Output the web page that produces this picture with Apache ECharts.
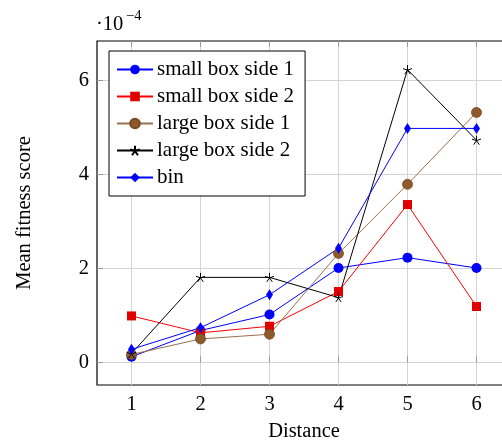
<!DOCTYPE html>
<html>
<head>
<meta charset="utf-8">
<script src="https://cdn.jsdelivr.net/npm/echarts@6/dist/echarts.min.js"></script>
<style>
html,body{margin:0;padding:0;background:#fff;}
#chart{width:502px;height:440px;}
</style>
</head>
<body>
<div id="chart"></div>
<script>
// Values in units of 1e-4
const distances = [1, 2, 3, 4, 5, 6];
const xTicks = [1, 2, 3, 4, 5, 6];
const yTicks = [0, 2, 4, 6];
const smallBoxSide1 = [0.12, 0.68, 1.02, 2.01, 2.23, 2.01];
const smallBoxSide2 = [0.99, 0.63, 0.77, 1.51, 3.36, 1.19];
const largeBoxSide1 = [0.17, 0.50, 0.60, 2.32, 3.79, 5.32];
const largeBoxSide2 = [0.19, 1.81, 1.81, 1.38, 6.23, 4.73];
const bin = [0.28, 0.74, 1.44, 2.43, 4.98, 4.98];
const seriesNames = ['small box side 1', 'small box side 2', 'large box side 1', 'large box side 2', 'bin'];

const FONT = 'Liberation Serif';
const pairs = arr => distances.map((d, i) => [d, arr[i]]);
const star = 'path://M0,-5L0,0M4.76,-1.55L0,0M2.94,4.05L0,0M-2.94,4.05L0,0M-4.76,-1.55L0,0';

const chart = echarts.init(document.getElementById('chart'), null, {renderer: 'canvas'});
const axisCommon = {
  axisLine: {show: false},
  axisTick: {show: true, inside: true, length: 6, lineStyle: {color: '#999', width: 1}},
  splitLine: {show: true, lineStyle: {color: '#d4d4d4', width: 1}},
  axisLabel: {color: '#000', fontFamily: FONT, fontSize: 20.5}
};
chart.setOption({
  animation: false,
  backgroundColor: '#fff',
  textStyle: {fontFamily: FONT},
  grid: {left: 97, top: 41, width: 414, height: 344, outerBoundsMode: 'none', containLabel: false,
         show: true, borderColor: '#000', borderWidth: 1.2, backgroundColor: 'transparent'},
  graphic: [
    {type: 'text', left: 96, top: 14, style: {text: '·10', font: '20.5px "Liberation Serif"', fill: '#000'}},
    {type: 'text', left: 126, top: 9, style: {text: '−4', font: '14.5px "Liberation Serif"', fill: '#000'}}
  ],
  legend: {
    left: 109, top: 51, orient: 'vertical',
    backgroundColor: '#fff', borderColor: '#000', borderWidth: 1,
    padding: [8, 11, 8, 7],
    itemWidth: 36, itemHeight: 12, itemGap: 6,
    textStyle: {fontFamily: FONT, fontSize: 21, color: '#000', lineHeight: 20, padding: [0, 0, 0, -1]},
    data: seriesNames
  },
  xAxis: [
    Object.assign({}, axisCommon, {
      type: 'value', min: 0.5, max: 6.5, position: 'bottom',
      name: 'Distance', nameLocation: 'middle', nameGap: 36,
      nameTextStyle: {fontFamily: FONT, fontSize: 20.5, color: '#000'},
      axisTick: Object.assign({}, axisCommon.axisTick, {customValues: xTicks}),
      axisLabel: Object.assign({}, axisCommon.axisLabel, {customValues: xTicks, margin: 9}),
    }),
    {
      type: 'value', min: 0.5, max: 6.5, position: 'top',
      axisLine: {show: false},
      axisTick: {show: true, inside: true, length: 6, lineStyle: {color: '#999'}, customValues: xTicks},
      axisLabel: {show: false, customValues: xTicks},
      splitLine: {show: false}
    }
  ],
  yAxis: Object.assign({}, axisCommon, {
    type: 'value', min: -0.48, max: 6.84,
    name: 'Mean fitness score', nameLocation: 'middle', nameGap: 62,
    nameTextStyle: {fontFamily: FONT, fontSize: 20.5, color: '#000'},
    axisTick: Object.assign({}, axisCommon.axisTick, {customValues: yTicks}),
    axisLabel: Object.assign({}, axisCommon.axisLabel, {customValues: yTicks, margin: 8}),
  }),
  series: [
    {name: seriesNames[0], type: 'line', data: pairs(smallBoxSide1), symbol: 'circle', symbolSize: 10,
     itemStyle: {color: '#0000ff'}, lineStyle: {color: '#0000ff', width: 1}},
    {name: seriesNames[1], type: 'line', data: pairs(smallBoxSide2), symbol: 'rect', symbolSize: 9,
     itemStyle: {color: '#e00000'}, lineStyle: {color: '#ff0000', width: 1}},
    {name: seriesNames[2], type: 'line', data: pairs(largeBoxSide1), symbol: 'circle', symbolSize: 10,
     itemStyle: {color: '#8c5a2b', borderColor: '#7a4a20', borderWidth: 0.8}, lineStyle: {color: '#9a7050', width: 1}},
    {name: seriesNames[3], type: 'line', data: pairs(largeBoxSide2), symbol: star, symbolSize: 9,
     itemStyle: {color: '#000', borderColor: '#000', borderWidth: 1}, lineStyle: {color: '#000', width: 1}},
    {name: seriesNames[4], type: 'line', data: pairs(bin), symbol: 'diamond', symbolSize: [7, 11],
     itemStyle: {color: '#0000ff'}, lineStyle: {color: '#0000ff', width: 1}}
  ]
});
</script>
</body>
</html>
